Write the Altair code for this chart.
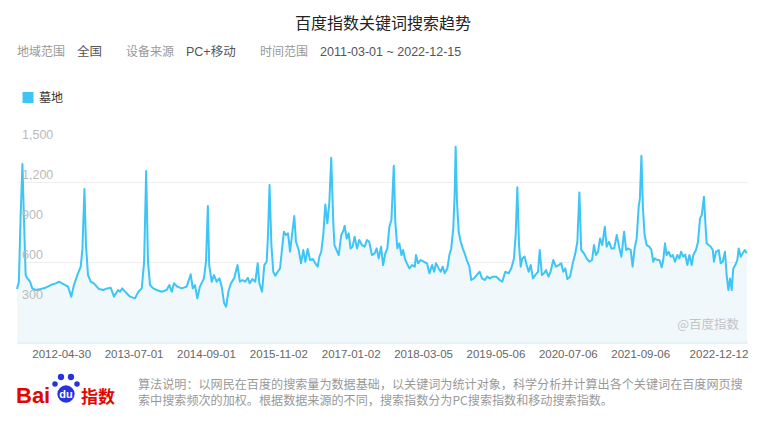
import altair as alt
import pandas as pd

# ---------------- data ----------------
dates = [
    "2011-03-01","2011-03-12","2011-03-22","2011-04-02","2011-04-11","2011-04-21","2011-05-01","2011-05-17",
    "2011-05-30","2011-06-19","2011-07-19","2011-08-17","2011-09-16","2011-10-15","2011-11-04","2011-12-03",
    "2011-12-27",
    "2012-01-15","2012-01-31","2012-02-20","2012-03-11","2012-03-21","2012-04-02","2012-04-11","2012-04-23",
    "2012-05-09","2012-05-28","2012-06-27","2012-07-22","2012-08-15","2012-09-04","2012-09-23","2012-10-17",
    "2012-10-29","2012-11-11","2012-12-07","2012-12-27",
    "2013-01-25","2013-02-14","2013-03-06","2013-03-20","2013-04-01","2013-04-12","2013-04-24","2013-05-13",
    "2013-06-02","2013-07-02","2013-07-31","2013-08-16","2013-08-30","2013-09-12","2013-10-02","2013-10-28",
    "2013-11-26","2013-12-20",
    "2014-01-01","2014-01-14","2014-01-28","2014-02-12","2014-03-08","2014-03-20","2014-03-31","2014-04-08",
    "2014-04-23","2014-05-06","2014-05-22","2014-06-07","2014-06-21","2014-07-05","2014-07-17","2014-07-30",
    "2014-08-14","2014-09-02","2014-09-22","2014-10-06","2014-10-21","2014-11-06","2014-11-22","2014-12-03",
    "2014-12-19",
    "2015-01-05","2015-01-19","2015-01-29","2015-02-14","2015-02-27","2015-03-13","2015-03-21","2015-03-30",
    "2015-04-10","2015-04-21","2015-05-03","2015-05-17","2015-05-31","2015-06-12","2015-06-23","2015-07-05",
    "2015-07-17","2015-07-29","2015-08-10","2015-08-23","2015-09-02","2015-09-18","2015-10-02","2015-10-15",
    "2015-10-27","2015-11-10","2015-11-24","2015-12-10","2015-12-25",
    "2016-01-08","2016-01-18","2016-01-29","2016-02-10","2016-02-22","2016-03-05","2016-03-17","2016-03-28",
    "2016-04-09","2016-04-16","2016-05-11","2016-05-26","2016-06-09","2016-06-15","2016-06-27","2016-07-09",
    "2016-07-20","2016-08-01","2016-08-13","2016-08-27","2016-09-09","2016-09-25","2016-10-11","2016-10-25",
    "2016-11-07","2016-11-23","2016-12-09","2016-12-21",
    "2017-01-02","2017-01-16","2017-01-28","2017-02-10","2017-02-22","2017-03-06","2017-03-18","2017-04-01",
    "2017-04-10","2017-04-22","2017-05-04","2017-05-16","2017-05-26","2017-06-05","2017-06-17","2017-07-02",
    "2017-07-18","2017-08-03","2017-08-10","2017-08-22","2017-09-07","2017-09-25","2017-10-14","2017-10-28",
    "2017-11-13","2017-11-25","2017-12-06","2017-12-22",
    "2018-01-03","2018-01-15","2018-01-26","2018-02-11","2018-02-23","2018-03-06","2018-03-18","2018-03-26",
    "2018-04-01","2018-04-09","2018-04-19","2018-05-01","2018-05-13","2018-05-24","2018-06-09","2018-06-21",
    "2018-07-02","2018-07-18","2018-08-03","2018-08-21","2018-09-03","2018-09-19","2018-10-05","2018-10-19",
    "2018-11-07","2018-11-27","2018-12-17",
    "2019-01-01","2019-01-19","2019-02-08","2019-02-23","2019-03-11","2019-03-21","2019-03-31","2019-04-10",
    "2019-04-20","2019-04-29","2019-05-13","2019-05-25","2019-06-06","2019-06-18","2019-07-01","2019-07-15",
    "2019-07-31","2019-08-10","2019-08-23","2019-09-08","2019-09-16","2019-10-01","2019-10-13","2019-10-29",
    "2019-11-14","2019-11-30","2019-12-15","2019-12-27",
    "2020-01-08","2020-01-20","2020-02-05","2020-02-21","2020-03-07","2020-03-19","2020-03-31","2020-04-11",
    "2020-04-27","2020-05-13","2020-05-29","2020-06-14","2020-06-25","2020-07-07","2020-07-19","2020-07-31",
    "2020-08-13","2020-08-28","2020-09-08","2020-09-22","2020-10-06","2020-10-22","2020-11-07","2020-11-20",
    "2020-12-04","2020-12-20",
    "2021-01-01","2021-01-12","2021-01-28","2021-02-08","2021-02-20","2021-03-04","2021-03-16","2021-03-23",
    "2021-04-01","2021-04-10","2021-04-20","2021-05-02","2021-05-17","2021-05-29","2021-06-10","2021-06-18",
    "2021-07-04","2021-07-16","2021-07-30","2021-08-08","2021-08-18","2021-08-28","2021-09-09","2021-09-21",
    "2021-10-03","2021-10-16","2021-10-30","2021-11-11","2021-11-21","2021-12-04","2021-12-16","2021-12-28",
    "2022-01-09","2022-01-23","2022-02-01","2022-02-17","2022-03-01","2022-03-13","2022-03-23","2022-04-05",
    "2022-04-13","2022-04-21","2022-05-03","2022-05-15","2022-05-27","2022-06-03","2022-06-15","2022-07-01",
    "2022-07-13","2022-07-25","2022-08-07","2022-08-17","2022-08-27","2022-09-06","2022-09-16","2022-09-25",
    "2022-10-07","2022-10-19","2022-10-27","2022-11-08","2022-11-20","2022-12-02","2022-12-14",
]
values = [
    397,452,930,1335,930,502,477,452,
    402,390,397,407,427,440,452,432,
    415,
    340,427,502,565,702,1147,727,502,
    452,440,397,390,402,407,340,390,
    377,402,365,340,
    327,377,402,602,1282,602,427,402,
    390,377,390,427,377,440,415,402,
    415,507,
    402,427,327,415,477,602,1020,577,
    452,502,452,477,415,290,265,377,
    440,477,577,452,465,452,482,440,
    472,
    452,590,440,377,577,602,802,1177,
    727,527,497,527,552,702,827,802,
    815,677,807,945,752,690,590,690,
    602,697,615,622,590,
    565,640,677,802,1032,890,1052,1382,
    900,727,652,802,840,872,777,815,
    702,715,790,702,765,727,715,765,
    752,652,665,702,
    627,715,577,665,702,865,915,1322,
    902,702,740,652,690,627,590,552,
    577,565,652,590,615,602,590,515,
    577,527,590,552,
    527,565,515,552,652,702,852,1102,
    1465,1052,827,752,702,665,602,565,
    465,477,502,527,477,465,490,477,
    490,490,465,
    452,527,515,552,627,802,1160,727,
    565,627,640,577,527,577,477,502,
    527,690,502,520,540,490,527,615,
    565,577,590,527,
    552,472,490,590,665,752,1122,690,
    665,627,602,615,727,652,677,777,
    727,865,715,752,702,702,802,715,
    640,827,
    690,702,690,565,702,777,1015,1077,
    1397,1002,802,727,715,695,602,627,
    615,615,560,615,740,652,677,640,
    652,602,652,627,677,640,655,577,
    652,577,652,690,752,927,952,1090,
    902,740,727,715,690,602,677,690,
    590,602,677,502,390,477,390,552,
    577,615,702,640,665,690,665,
]
keyword = "墓地"
y_ticks = [300, 600, 900, 1200, 1500]
grid_values = [0, 300, 600, 900, 1200, 1500]
x_tick_labels = ["2012-04-30", "2013-07-01", "2014-09-01", "2015-11-02", "2017-01-02",
                 "2018-03-05", "2019-05-06", "2020-07-06", "2021-09-06", "2022-12-12"]
domain_start = "2011-03-01"
domain_end = "2022-12-15"

title_text = "百度指数关键词搜索趋势"
filter_items = [("地域范围", "全国"), ("设备来源", "PC+移动"), ("时间范围", "2011-03-01 ~ 2022-12-15")]
note_lines = ["算法说明：以网民在百度的搜索量为数据基础，以关键词为统计对象，科学分析并计算出各个关键词在百度网页搜",
              "索中搜索频次的加权。根据数据来源的不同，搜索指数分为PC搜索指数和移动搜索指数。"]
watermark = "@百度指数"

# ---------------- styling ----------------
LINE = "#3ec5f5"
FILL = "#f0f8fc"
FONT = "Liberation Sans, Noto Sans CJK SC, sans-serif"
CJK = "Noto Sans CJK SC, sans-serif"
OX, OY = 17, 142  # page position of the plot's top-left corner


def dt(s):
    y, m, d = (int(p) for p in s.split("-"))
    return alt.DateTime(year=y, month=m, date=d)


df = pd.DataFrame({"date": pd.to_datetime(dates), "value": values})

x_enc = alt.X(
    "date:T",
    scale=alt.Scale(domain=[dt(domain_start), dt(domain_end)], nice=False),
    axis=alt.Axis(
        values=[dt(s) for s in x_tick_labels], format="%Y-%m-%d", title=None, grid=False,
        labelOffset=-28, labelColor="#666", labelFontSize=11.5, labelFont=FONT,
        labelPadding=3, labelOverlap=False, labelFlush=False, labelBound=False,
        tickColor="white", tickSize=3, tickWidth=1,
        domainColor="#e3f1f9", domainWidth=3,
    ),
)
y_enc = alt.Y(
    "value:Q",
    scale=alt.Scale(domain=[0, 1500], nice=False, zero=True),
    axis=alt.Axis(values=grid_values, labels=False, ticks=False, domain=False, title=None,
                  grid=True, gridColor="#eeeeee", gridWidth=1),
)

base = alt.Chart(df)
area = base.mark_area(color=FILL, opacity=1).encode(x=x_enc, y=y_enc)
line = base.mark_line(color=LINE, strokeWidth=2, strokeJoin="round").encode(x="date:T", y="value:Q")

ylab = alt.Chart(pd.DataFrame({"v": y_ticks})).mark_text(
    align="left", baseline="middle", dy=-7, fontSize=12.5, color="#bbbbbb", font=FONT
).encode(x=alt.value(22 - OX), y="v:Q", text=alt.Text("v:Q", format=","))


def label(text, px, py, size=12, color="#333", align="left", weight="normal", font=CJK, baseline="middle"):
    return alt.Chart(pd.DataFrame({"a": [0]})).mark_text(
        align=align, baseline=baseline, fontSize=size, color=color, fontWeight=weight, font=font
    ).encode(x=alt.value(px - OX), y=alt.value(py - OY), text=alt.value(text))


def dot(px, py, size, color, shape="circle"):
    return alt.Chart(pd.DataFrame({"a": [0]})).mark_point(
        shape=shape, filled=True, size=size, color=color, opacity=1
    ).encode(x=alt.value(px - OX), y=alt.value(py - OY))


layers = [area, line, ylab]
layers.append(label(title_text, 383, 24, size=16, color="#222", align="center"))
filter_x = [(17, 77), (126, 186), (260, 320)]
for (k, v), (kx, vx) in zip(filter_items, filter_x):
    layers.append(label(k, kx, 52, size=12, color="#999"))
    layers.append(label(v, vx, 52, size=12.5, color="#555", font=FONT))
layers.append(dot(28, 97.5, 121, LINE, shape="square"))
layers.append(label(keyword, 39, 97.5, size=12, color="#333"))
layers.append(label(watermark, 739, 325, size=12.5, color="#c4c4c4", align="right"))

# Baidu Index logo
RED = "#e10601"
BLUE = "#2932e1"
layers.append(label("Bai", 16, 403, size=22, color=RED, weight="bold", font=FONT, baseline="alphabetic"))
layers.append(dot(66, 394, 300, BLUE))
layers.append(dot(55, 384, 30, BLUE))
layers.append(dot(61, 377, 40, BLUE))
layers.append(dot(71, 377, 40, BLUE))
layers.append(dot(77, 384, 30, BLUE))
layers.append(label("du", 66, 395, size=11, color="white", align="center", weight="bold", font=FONT))
layers.append(label("指数", 81, 403, size=17, color=RED, weight="bold", baseline="alphabetic"))
layers.append(label(note_lines[0], 138, 385, size=12.1, color="#999"))
layers.append(label(note_lines[1], 138, 401, size=12.1, color="#999"))

chart = alt.layer(*layers).properties(
    width=730, height=200,
    background="white",
    autosize=alt.AutoSizeParams(type="none"),
    padding={"left": OX - 8, "top": OY - 8, "right": 10, "bottom": 72},
).configure_view(stroke=None)

chart.save("out.html", embed_options={"renderer": "svg", "actions": False})
